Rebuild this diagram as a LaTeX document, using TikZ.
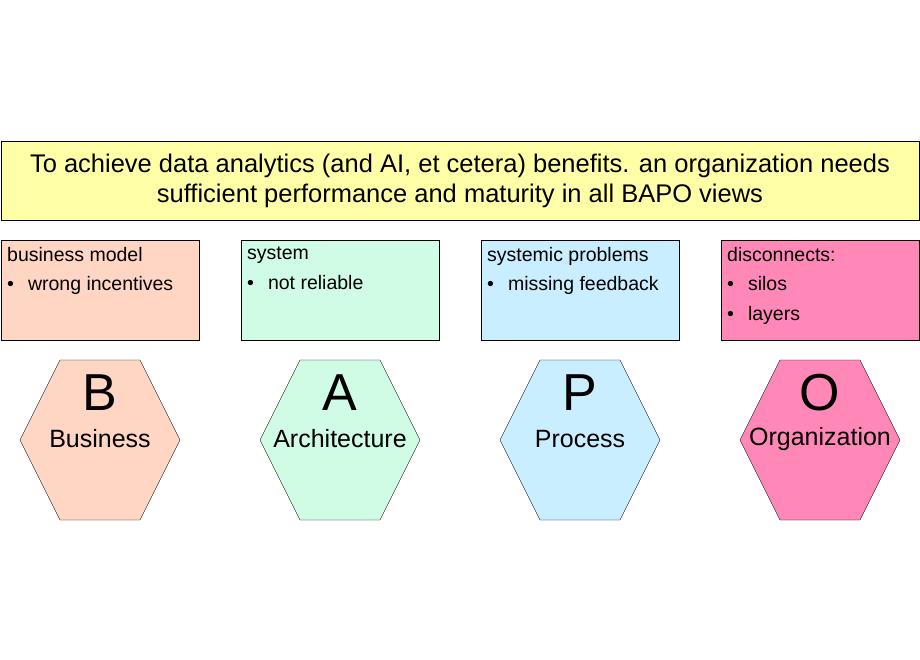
\documentclass[tikz,border=0pt]{standalone}
\usepackage{fontspec}
\setmainfont{Liberation Sans}
\usetikzlibrary{positioning}
\definecolor{bannerfill}{HTML}{FFFFA8}
\definecolor{bfill}{HTML}{FFD5C3}
\definecolor{afill}{HTML}{D0FBE5}
\definecolor{pfill}{HTML}{C9EEFF}
\definecolor{ofill}{HTML}{FF88B8}
\tikzset{
  view box/.style={draw=black,minimum width=198pt,minimum height=100pt,
    anchor=north west,inner sep=0pt},
  box text/.style={anchor=north west,align=left,inner sep=0pt,
    font=\fontsize{19.5}{29.5}\selectfont},
  letter/.style={font=\fontsize{52}{52}\selectfont,inner sep=0pt},
  view name/.style={font=\fontsize{25}{28}\selectfont,inner sep=0pt}
}
\begin{document}
\begin{tikzpicture}[x=1pt,y=-1pt]
  \useasboundingbox (0,0) rectangle (920,660);
  % banner
  \node[draw=black,fill=bannerfill,minimum width=918pt,minimum height=79pt,
    align=center,font=\fontsize{25.5}{30}\selectfont,inner sep=0pt] (banner) at (460,180.5)
    {To achieve data analytics (and AI, et cetera) benefits. an organization needs\\
     sufficient performance and maturity in all BAPO views};
  % boxes and hexagons
  \foreach \i/\c/\L/\N/\T in {0/bfill/B/Business/{business model\\\textbullet\hspace{14pt}wrong incentives},
      1/afill/A/Architecture/{system\\\textbullet\hspace{14pt}not reliable},
      2/pfill/P/Process/{systemic problems\\\textbullet\hspace{14pt}missing feedback},
      3/ofill/O/Organization/{disconnects:\\\textbullet\hspace{14pt}silos\\\textbullet\hspace{14pt}layers}} {
    \pgfmathsetmacro{\x}{1+240*\i}
    \pgfmathsetmacro{\cx}{100+240*\i}
    \node[view box,fill=\c] (box\L) at (\x,240) {};
    \node[box text] (text\L) at (\x+6,247) {\T};
    \draw[fill=\c] (\cx-80,440) -- (\cx-40,360) -- (\cx+40,360) -- (\cx+80,440)
      -- (\cx+40,520) -- (\cx-40,520) -- cycle;
    \node[letter] (letter\L) at (\cx,393) {\L};
    \node[view name] (name\L) at (\cx,439) {\N};
  }
\end{tikzpicture}
\end{document}
